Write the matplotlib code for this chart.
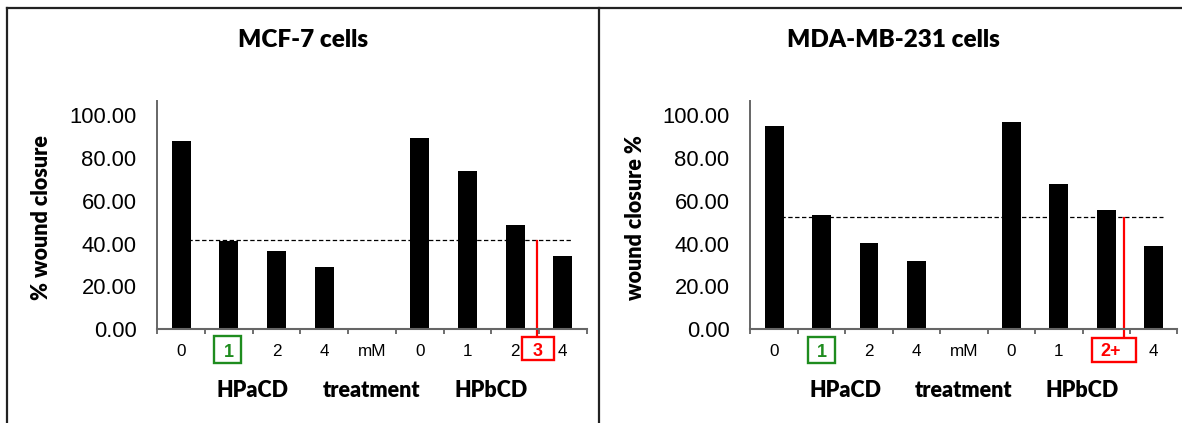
import matplotlib.pyplot as plt
import numpy as np
from matplotlib.lines import Line2D
from matplotlib.patches import Rectangle

# data
categories = ["0", "1", "2", "4", "mM", "0", "1", "2", "4"]
groups = ["HPaCD", "treatment", "HPbCD"]
group_pos = [1.5, 4.0, 6.5]

mcf7_closure = [87.9, 41.4, 36.5, 29.1, np.nan, 89.3, 73.9, 48.7, 34.2]
mda_closure = [94.9, 53.3, 40.3, 31.9, np.nan, 96.7, 67.8, 55.7, 38.9]

mcf7_ref = 41.6
mda_ref = 52.3

W, H = 1182, 423
fig = plt.figure(figsize=(W / 100, H / 100), dpi=100)

TICK_FONT = "Liberation Sans"
BOLD_FONT = "Lato"
HEAVY = "heavy"


def draw_panel(rect, values, ref, title, ylabel, title_x, red_x, red_label,
               red_text_x, red_box, green_box):
    ax = fig.add_axes(rect)
    x = np.arange(len(categories))
    ax.bar(x, values, width=0.4, color="black")
    ax.plot([0, 8.2], [ref, ref], color="black", lw=0.9, ls=(0, (3.5, 2)))

    ax.set_xlim(-0.5, 8.5)
    ax.set_ylim(0, 106.5)
    ax.set_yticks(np.arange(0, 101, 20))
    ax.set_yticklabels([f"{v:.2f}" for v in np.arange(0, 101, 20)],
                       fontfamily=TICK_FONT, fontsize=15.8)
    ax.tick_params(axis="y", length=0, pad=15)

    # blank the tick label that the red box replaces
    ticklabels = list(categories)
    if red_label == "2+":
        ticklabels[7] = ""
    ax.set_xticks(x)
    ax.set_xticklabels(ticklabels, fontfamily=TICK_FONT, fontsize=12.3)
    ax.set_xticks(np.arange(-0.5, 9, 1), minor=True)
    ax.tick_params(axis="x", which="major", length=0, pad=10.5)
    ax.tick_params(axis="x", which="minor", length=3.5, color="#555555",
                   width=1.2)
    lbl = ax.get_xticklabels()
    lbl[1].set_color("#1E8C1E")
    lbl[1].set_fontweight("bold")
    lbl[1].set_fontsize(13)

    for s in ["top", "right"]:
        ax.spines[s].set_visible(False)
    ax.spines["left"].set_color("#666666")
    ax.spines["left"].set_linewidth(1.4)
    ax.spines["bottom"].set_color("#666666")
    ax.spines["bottom"].set_linewidth(1.5)

    trans = ax.get_xaxis_transform()
    for g, p in zip(groups, group_pos):
        ax.text(p, -0.27, g, transform=trans, ha="center", va="center",
                fontfamily=BOLD_FONT, fontweight=HEAVY, fontsize=15.5)

    ax.set_ylabel(ylabel, fontfamily=BOLD_FONT, fontweight=HEAVY,
                  fontsize=15.5, va="center")
    ax.yaxis.set_label_coords(-0.27, 0.49)

    # green box around "1"
    gx0, gx1, gy0, gy1 = green_box
    ax.add_patch(Rectangle((gx0, gy0), gx1 - gx0, gy1 - gy0, transform=trans,
                           fill=False, edgecolor="#1E8C1E", lw=1.7,
                           clip_on=False))
    # red marker line and box
    rx0, rx1, ry0, ry1 = red_box
    ax.plot([red_x, red_x], [ref - 0.6, ry1 * 106.5], color="red", lw=1.6,
            clip_on=False)
    ax.add_patch(Rectangle((rx0, ry0), rx1 - rx0, ry1 - ry0, transform=trans,
                           facecolor="white", edgecolor="red", lw=1.7,
                           clip_on=False, zorder=5))
    ax.text(red_text_x, -0.098, red_label, transform=trans, ha="center",
            va="center", color="red", fontfamily=TICK_FONT, fontweight="bold",
            fontsize=13, zorder=6)

    fig.text(title_x, 1 - 40 / H, title, ha="center", va="center",
             fontfamily=BOLD_FONT, fontweight=HEAVY, fontsize=17.5)
    return ax


ax_b = 1 - 329.3 / H
ax_h = 228.3 / H

draw_panel([157.3 / W, ax_b, 429.4 / W, ax_h], mcf7_closure, mcf7_ref,
           "MCF-7 cells", "% wound closure", 302.7 / W,
           7.46, "3", 7.47, (7.14, 7.81, -0.1345, -0.0324),
           (0.695, 1.255, -0.146, -0.0293))

draw_panel([750.4 / W, ax_b, 427.0 / W, ax_h], mda_closure, mda_ref,
           "MDA-MB-231 cells", "wound closure %", 893 / W,
           7.38, "2+", 7.09, (6.71, 7.63, -0.142, -0.0368),
           (0.72, 1.28, -0.146, -0.0324))

# panel frames
frame = dict(color="#222222", lw=1.6, transform=fig.transFigure)
fig.add_artist(Line2D([6.7 / W, 1], [1 - 8.3 / H, 1 - 8.3 / H], **frame))
fig.add_artist(Line2D([6.7 / W, 6.7 / W], [0, 1 - 8.3 / H], **frame))
fig.add_artist(Line2D([598.7 / W, 598.7 / W], [0, 1 - 8.3 / H], **frame))

fig.savefig("out.png", dpi=100)
plt.close(fig)
